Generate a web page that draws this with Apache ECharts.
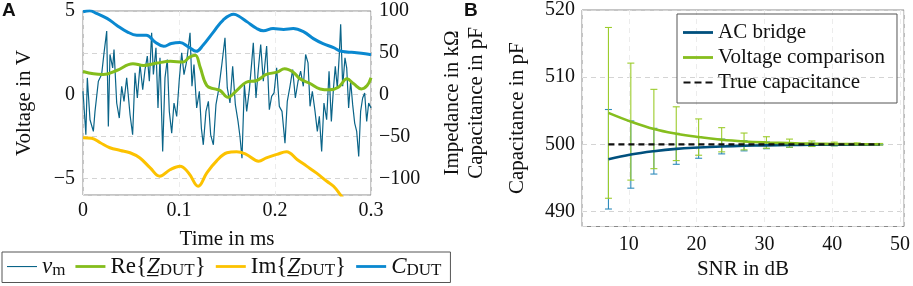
<!DOCTYPE html>
<html>
<head>
<meta charset="utf-8">
<script src="https://cdn.jsdelivr.net/npm/echarts@6/dist/echarts.min.js"></script>
<style>
  html, body { margin: 0; padding: 0; background: #fff; }
  #chart { width: 913px; height: 286px; }
</style>
</head>
<body>
<div id="chart"></div>
<script>
// ---- panel A: measured voltage v_m (V) ----
const vmTime = [0.0000, 0.0030, 0.0045, 0.0073, 0.0108, 0.0125, 0.0160, 0.0194, 0.0219, 0.0247, 0.0264, 0.0281, 0.0309, 0.0323, 0.0351, 0.0378, 0.0403, 0.0427, 0.0455, 0.0490, 0.0517, 0.0542, 0.0566, 0.0594, 0.0622, 0.0646, 0.0670, 0.0691, 0.0715, 0.0733, 0.0760, 0.0781, 0.0802, 0.0830, 0.0854, 0.0878, 0.0899, 0.0924, 0.0948, 0.0976, 0.1003, 0.1028, 0.1052, 0.1080, 0.1115, 0.1135, 0.1156, 0.1184, 0.1212, 0.1233, 0.1253, 0.1281, 0.1306, 0.1330, 0.1358, 0.1385, 0.1413, 0.1444, 0.1479, 0.1503, 0.1531, 0.1559, 0.1587, 0.1615, 0.1635, 0.1656, 0.1681, 0.1705, 0.1733, 0.1757, 0.1774, 0.1802, 0.1826, 0.1851, 0.1878, 0.1913, 0.1941, 0.1965, 0.1990, 0.2017, 0.2045, 0.2073, 0.2104, 0.2128, 0.2156, 0.2184, 0.2212, 0.2240, 0.2267, 0.2295, 0.2319, 0.2344, 0.2365, 0.2389, 0.2417, 0.2441, 0.2462, 0.2486, 0.2510, 0.2538, 0.2563, 0.2587, 0.2608, 0.2628, 0.2649, 0.2670, 0.2684, 0.2705, 0.2729, 0.2747, 0.2767, 0.2788, 0.2809, 0.2830, 0.2851, 0.2872, 0.2892, 0.2913, 0.2934, 0.2955, 0.2976, 0.3000];
const vmVolt = [0.2, -2.4, 1.0, -1.5, -2.2, -1.0, 0.8, 1.2, 2.5, 3.8, -1.9, 2.4, 1.6, 2.7, -0.5, -1.4, 0.5, -0.4, 1.0, -1.2, -2.4, 1.3, -0.2, 1.8, 0.3, 1.5, 2.3, 0.8, 3.7, 1.2, 2.8, -0.8, 2.2, -3.4, 1.0, 2.1, -1.0, -2.3, -0.5, -1.3, 0.9, 2.5, 1.2, 2.0, 3.7, 0.5, 1.8, -0.8, 0.2, -2.0, -3.0, -1.0, -0.4, -2.4, -3.0, -0.6, 0.3, 1.7, 3.4, 0.4, -0.5, 1.7, -0.6, -1.6, -2.5, -3.8, 0.6, -1.0, 0.3, 1.9, 3.1, -0.2, 1.5, 3.0, 0.8, 2.9, -0.9, -0.1, 0.1, 1.6, -0.7, -1.0, -2.9, -0.4, 0.5, 1.5, -0.2, 0.8, 1.4, 0.5, 2.4, 1.9, -0.7, 0.2, -1.0, -2.2, -1.3, -3.4, -0.5, -1.5, 1.4, -1.6, 0.3, 1.7, 0.4, 2.4, 4.2, 0.5, 2.2, 1.6, -0.8, 0.8, -0.6, -1.7, -2.2, -3.7, -1.0, -0.2, 0.1, -1.6, -0.5, -0.8];

// Re{Z_DUT} (kOhm)
const reTime = [0, 0.011, 0.021, 0.035, 0.052, 0.063, 0.077, 0.091, 0.104, 0.111, 0.117, 0.122, 0.129, 0.137, 0.143, 0.151, 0.160, 0.170, 0.181, 0.191, 0.202, 0.210, 0.219, 0.226, 0.236, 0.247, 0.257, 0.266, 0.275, 0.282, 0.290, 0.296, 0.300];
const reVals = [27.7, 24.9, 24.1, 28.9, 37, 34.9, 37.7, 39.8, 38.9, 44.9, 47, 32.9, 10.8, 6.8, 4.8, -3.2, 4.8, 14.8, 16.9, 24.1, 26.9, 31, 26.9, 18.9, 13.6, 6.8, 5.7, 8.8, 18.9, 12.9, 6.8, 10.8, 20.1];

// Im{Z_DUT} (kOhm)
const imTime = [0, 0.009, 0.018, 0.028, 0.039, 0.049, 0.059, 0.070, 0.080, 0.091, 0.101, 0.110, 0.120, 0.129, 0.139, 0.150, 0.160, 0.170, 0.183, 0.191, 0.202, 0.212, 0.223, 0.233, 0.243, 0.254, 0.261, 0.268, 0.275, 0.282];
const imVals = [-51.4, -52.2, -57.5, -63.5, -66.7, -69.5, -75.5, -87.6, -97.6, -89.5, -85.5, -93.6, -109.6, -93.6, -79.5, -69.5, -68.3, -71.4, -79.5, -75.5, -71.4, -68.3, -77.5, -85.5, -93.6, -103.6, -109.6, -119.6, -130, -140];

// C_DUT (pF)
const cTime = [0, 0.007, 0.014, 0.025, 0.035, 0.046, 0.056, 0.066, 0.075, 0.084, 0.092, 0.101, 0.110, 0.118, 0.125, 0.136, 0.146, 0.157, 0.162, 0.171, 0.181, 0.188, 0.198, 0.209, 0.219, 0.230, 0.240, 0.250, 0.261, 0.268, 0.275, 0.285, 0.300];
const cVals = [99.2, 100.4, 97.2, 91.2, 83.1, 75.1, 71.1, 71.1, 63, 57.8, 61.1, 62.3, 57, 51.8, 59, 75, 89.2, 96, 94, 87, 79.1, 76.3, 79.1, 78, 79.1, 75.1, 67, 61, 56.2, 52.2, 51, 50.2, 47.8];

// ---- panel B: capacitance vs SNR ----
const snr = [7, 10.3, 13.7, 17, 20.3, 23.7, 27, 30.3, 33.7, 37, 40.3, 43.7, 47];
const acMean = [497.8, 498.5, 499.0, 499.35, 499.55, 499.7, 499.8, 499.87, 499.92, 499.95, 499.97, 499.98, 499.99];
const acErr = [7.4, 5.0, 3.4, 2.3, 1.6, 1.1, 0.75, 0.5, 0.35, 0.25, 0.17, 0.12, 0.08];
const vcMean = [504.7, 503.4, 502.3, 501.6, 501.1, 500.7, 500.45, 500.3, 500.2, 500.12, 500.08, 500.05, 500.03];
const vcErr = [12.7, 8.7, 5.9, 4.0, 2.7, 1.8, 1.25, 0.85, 0.6, 0.4, 0.27, 0.18, 0.12];
const trueCap = 500;

const FONT = 'Liberation Serif';
const GRID_COLOR = '#d4d4d4';
const minus = v => String(v).replace('-', '\u2212');

const pairs = (xs, ys) => xs.map((x, i) => [x, ys[i]]);
const errRows = (mean, err) => snr.map((x, i) => [x, mean[i] - err[i], mean[i] + err[i]]);

// legend icons: tall invisible bounding box, visible bar of given thickness
const THIN = 'path://M0,0M0,12M0,5.5H30V6.6H0Z';
const THICK = 'path://M0,0M0,12M0,4.6H30V7.4H0Z';
const DASH = 'path://M0,0M0,12M0,4.9H7V7.1H0ZM11,4.9H18V7.1H11ZM22,4.9H29V7.1H22Z';

function errorBar(color) {
  return function (params, api) {
    const x = api.value(0);
    const lo = api.coord([x, api.value(1)]);
    const hi = api.coord([x, api.value(2)]);
    const w = 3.5;
    const style = { stroke: color, lineWidth: 1.1 };
    return {
      type: 'group',
      children: [
        { type: 'line', shape: { x1: hi[0], y1: hi[1], x2: lo[0], y2: lo[1] }, style },
        { type: 'line', shape: { x1: hi[0] - w, y1: hi[1], x2: hi[0] + w, y2: hi[1] }, style },
        { type: 'line', shape: { x1: lo[0] - w, y1: lo[1], x2: lo[0] + w, y2: lo[1] }, style }
      ]
    };
  };
}

const legRich = {
  n: { fontFamily: FONT, fontSize: 23, color: '#111' },
  i: { fontFamily: FONT, fontSize: 23, fontStyle: 'italic', color: '#111' },
  s: { fontFamily: FONT, fontSize: 17, color: '#111', padding: [9, 0, 0, 0] }
};
const legendNames = {
  'vm': '{i|v}{s|m}',
  're': '{n|Re{}{i|Z\u0332}{s|DUT}{n|\u007D}',
  'im': '{n|Im{}{i|Z\u0332}{s|DUT}{n|\u007D}',
  'c': '{i|C}{s|DUT}'
};

const chart = echarts.init(document.getElementById('chart'));

const nameStyle = { fontFamily: FONT, fontSize: 21, color: '#111' };
const dashed = { show: true, lineStyle: { color: GRID_COLOR, type: [5, 4], width: 1 } };
const faint = { show: true, lineStyle: { color: '#ececec', type: [5, 4], width: 1 } };

const option = {
  animation: false,
  graphic: [
    { type: 'text', left: 2, top: 1, style: { text: 'A', fontFamily: 'Liberation Sans', fontWeight: 'bold', fontSize: 19, fill: '#111' } },
    { type: 'text', left: 464, top: 1, style: { text: 'B', fontFamily: 'Liberation Sans', fontWeight: 'bold', fontSize: 19, fill: '#111' } }
  ],
  grid: [
    { left: 83, top: 11, width: 288, height: 184, show: true, borderColor: '#8a8a8a', borderWidth: 1 },
    { left: 582, top: 10, width: 325, height: 216.5, show: true, borderColor: '#8a8a8a', borderWidth: 1 }
  ],
  legend: [
    {
      left: 2, top: 252,
      orient: 'horizontal',
      data: [
        { name: 'vm', icon: THIN },
        { name: 're', icon: THICK },
        { name: 'im', icon: THICK },
        { name: 'c', icon: THICK }
      ],
      itemWidth: 30, itemHeight: 12, itemGap: 10,
      padding: [3, 9, 3, 5],
      borderColor: '#555', borderWidth: 1,
      textStyle: { fontFamily: FONT, fontSize: 23, color: '#111', rich: legRich },
      formatter: name => legendNames[name]
    },
    {
      left: 677, top: 14,
      orient: 'vertical',
      data: [
        { name: 'AC bridge', icon: THICK },
        { name: 'Voltage comparison', icon: THICK },
        { name: 'True capacitance', icon: DASH }
      ],
      itemWidth: 30, itemHeight: 12, itemGap: 4,
      padding: [8, 12, 10, 6],
      borderColor: '#555', borderWidth: 1,
      textStyle: { fontFamily: FONT, fontSize: 21, color: '#111', lineHeight: 21 }
    }
  ],
  xAxis: [
    {
      gridIndex: 0, type: 'value', min: 0, max: 0.3, interval: 0.1,
      name: 'Time in ms', nameLocation: 'middle', nameGap: 34, nameTextStyle: nameStyle,
      axisLine: { show: false }, axisTick: { show: false },
      axisLabel: { margin: 6, fontFamily: FONT, fontSize: 20, color: '#111' },
      splitLine: faint
    },
    {
      gridIndex: 1, type: 'value', min: 3.1, max: 50.6, splitNumber: 5,
      name: 'SNR in dB', nameLocation: 'middle', nameGap: 30, nameTextStyle: nameStyle,
      axisLine: { show: false }, axisTick: { show: false },
      axisLabel: { margin: 8, showMinLabel: false, showMaxLabel: false, fontFamily: FONT, fontSize: 20, color: '#111' },
      splitLine: faint
    }
  ],
  yAxis: [
    {
      gridIndex: 0, type: 'value', min: -6, max: 5, splitNumber: 2,
      name: 'Voltage in V', nameLocation: 'middle', nameGap: 48, nameTextStyle: nameStyle,
      axisLine: { show: false }, axisTick: { show: false },
      axisLabel: { margin: 8, showMinLabel: false, formatter: minus, fontFamily: FONT, fontSize: 20, color: '#111' },
      splitLine: { show: false }
    },
    {
      gridIndex: 0, type: 'value', position: 'right', min: -120, max: 100, splitNumber: 4,
      name: 'Impedance in k\u03A9\nCapacitance in pF', nameLocation: 'middle', nameGap: 69,
      nameTextStyle: Object.assign({ lineHeight: 24 }, nameStyle),
      axisLine: { show: false }, axisTick: { show: false },
      axisLabel: { margin: 8, showMinLabel: false, formatter: minus, fontFamily: FONT, fontSize: 20, color: '#111' },
      splitLine: dashed
    },
    {
      gridIndex: 1, type: 'value', min: 487.8, max: 520, splitNumber: 3,
      name: 'Capacitance in pF', nameLocation: 'middle', nameGap: 54, nameTextStyle: nameStyle,
      axisLine: { show: false }, axisTick: { show: false },
      axisLabel: { margin: 7, showMinLabel: false, fontFamily: FONT, fontSize: 20, color: '#111' },
      splitLine: dashed
    }
  ],
  series: [
    {
      name: 'vm', type: 'line', xAxisIndex: 0, yAxisIndex: 0,
      data: pairs(vmTime, vmVolt), symbol: 'none',
      lineStyle: { color: '#0a6488', width: 1.2 }, itemStyle: { color: '#0a6488' }
    },
    {
      name: 're', type: 'line', xAxisIndex: 0, yAxisIndex: 1,
      data: pairs(reTime, reVals), symbol: 'none', smooth: 0.4,
      lineStyle: { color: '#84bd1c', width: 3 }, itemStyle: { color: '#84bd1c' }
    },
    {
      name: 'im', type: 'line', xAxisIndex: 0, yAxisIndex: 1,
      data: pairs(imTime, imVals), symbol: 'none', smooth: 0.4,
      lineStyle: { color: '#fcc200', width: 3 }, itemStyle: { color: '#fcc200' }
    },
    {
      name: 'c', type: 'line', xAxisIndex: 0, yAxisIndex: 1,
      data: pairs(cTime, cVals), symbol: 'none', smooth: 0.4,
      lineStyle: { color: '#0a88d0', width: 3 }, itemStyle: { color: '#0a88d0' }
    },
    {
      name: 'acErr', type: 'custom', xAxisIndex: 1, yAxisIndex: 2,
      data: errRows(acMean, acErr), encode: { x: 0, y: [1, 2] },
      renderItem: errorBar('#2f8bbb')
    },
    {
      name: 'vcErr', type: 'custom', xAxisIndex: 1, yAxisIndex: 2,
      data: errRows(vcMean, vcErr), encode: { x: 0, y: [1, 2] },
      renderItem: errorBar('#9ccc2c')
    },
    {
      name: 'AC bridge', type: 'line', xAxisIndex: 1, yAxisIndex: 2,
      data: pairs(snr, acMean), symbol: 'none', smooth: 0.4,
      lineStyle: { color: '#00507d', width: 2.6 }, itemStyle: { color: '#00507d' }
    },
    {
      name: 'Voltage comparison', type: 'line', xAxisIndex: 1, yAxisIndex: 2,
      data: pairs(snr, vcMean), symbol: 'none', smooth: 0.4,
      lineStyle: { color: '#86be1e', width: 2.6 }, itemStyle: { color: '#86be1e' }
    },
    {
      name: 'True capacitance', type: 'line', xAxisIndex: 1, yAxisIndex: 2,
      data: [[snr[0], trueCap], [snr[snr.length - 1], trueCap]], symbol: 'none',
      lineStyle: { color: '#111', width: 2.2, type: [6, 4] }, itemStyle: { color: '#111' }
    }
  ]
};

chart.setOption(option);
</script>
</body>
</html>
